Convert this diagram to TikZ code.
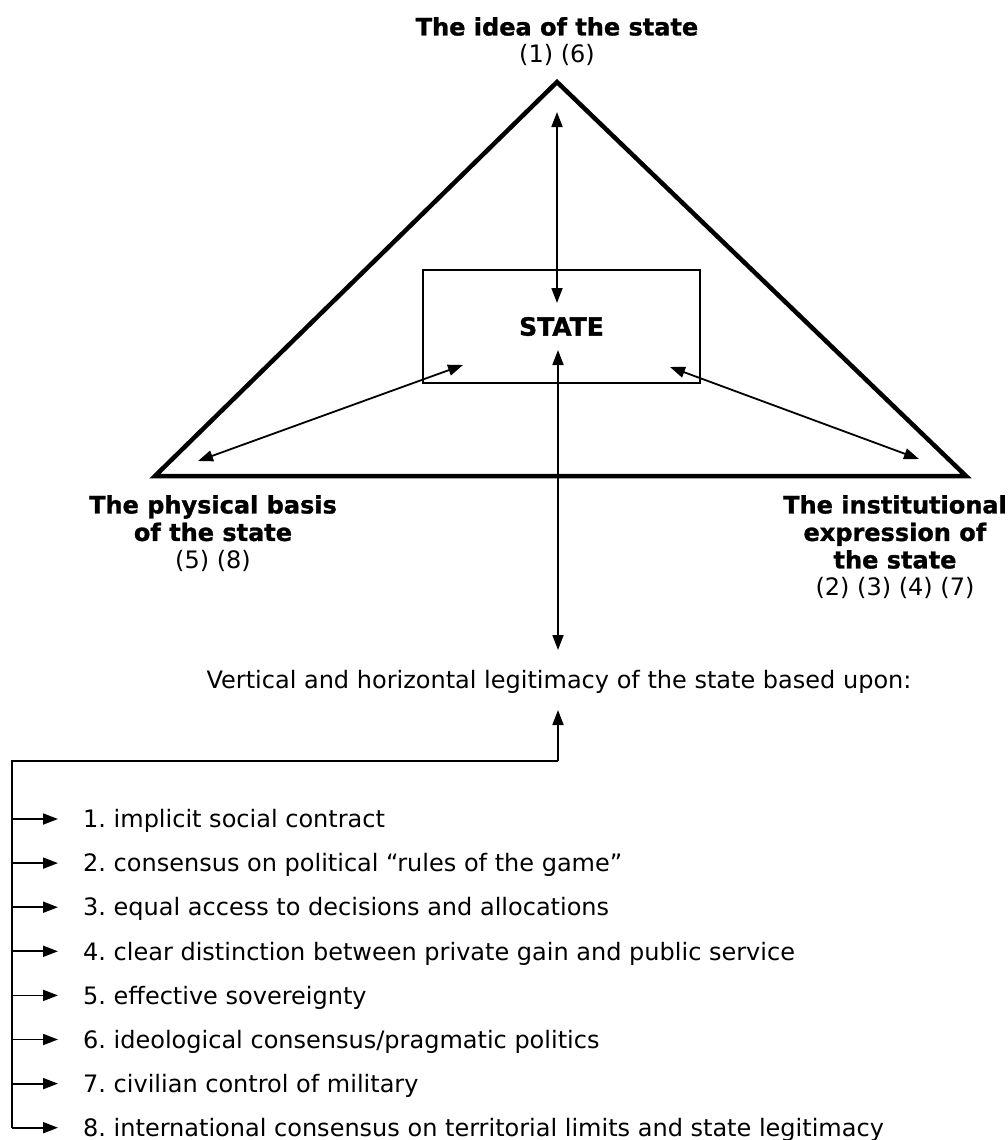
\documentclass[tikz,border=0pt]{standalone}
\usepackage{fontspec}
\setmainfont{DejaVu Sans}[BoldFeatures={FakeBold=1.2}]
\usetikzlibrary{
  arrows.meta,
  positioning,
}

\begin{document}
\begin{tikzpicture}[x=1pt,y=-1pt,>={Triangle[length=15pt,width=11pt]}]%
\tikzstyle{heading}=[align=center,inner sep=0pt,font=\fontsize{24}{27.5}\selectfont]
\tikzstyle{conn}=[line width=1.8pt]
\tikzstyle{item}=[anchor=west,inner sep=0pt,text height=17.5pt,text depth=0pt,font=\fontsize{24}{28}\selectfont]
\useasboundingbox (0,0) rectangle (1008,1140);
\coordinate (apex) at (557,82);
\coordinate (basel) at (155,476);
\coordinate (baser) at (966,476);
\draw[line width=4.5pt,line join=miter] (apex) -- (basel) -- (baser) -- cycle;
\node[draw,line width=1.8pt,minimum width=277pt,minimum height=113pt,inner sep=0pt,font=\fontsize{25}{30}\selectfont\bfseries] (state) at (561.5,326.5) {STATE};
\node[heading,anchor=north] (idea) at (557,17) {\textbf{The idea of the state}\\(1) (6)};
\node[heading,anchor=north] (physical) at (213,495) {\textbf{The physical basis}\\\textbf{of the state}\\(5) (8)};
\node[heading,anchor=north] (institutional) at (895,495) {\textbf{The institutional}\\\textbf{expression of}\\\textbf{the state}\\(2) (3) (4) (7)};
\node[heading,anchor=base] (legit) at (559,688) {Vertical and horizontal legitimacy of the state based upon:};
\coordinate (ideatip) at (557,112);
\coordinate (statetop) at (557,303);
\coordinate (statebot) at (558,350);
\coordinate (legittop) at (558,650);
\coordinate (physend) at (198,461);
\coordinate (stateleft) at (463,365);
\coordinate (stateright) at (670,367);
\coordinate (instend) at (919,459);
\coordinate (legitbot) at (558,710);
\coordinate (junction) at (558,761);
\coordinate (corner) at (12,761);
\draw[conn,<->] (ideatip) -- (statetop);
\draw[conn,<->] (statebot) -- (legittop);
\draw[conn,<->] (physend) -- (stateleft);
\draw[conn,<->] (stateright) -- (instend);
\draw[conn,->] (junction) -- (legitbot);
\foreach \txt [count=\i] in {implicit social contract,
  consensus on political “rules of the game”,
  equal access to decisions and allocations,
  clear distinction between private gain and public service,
  effective sovereignty,
  ideological consensus/pragmatic politics,
  civilian control of military,
  international consensus on territorial limits and state legitimacy}
{
  \node[item] (item\i) at (83,{819+44.1*(\i-1)}) {\i.\ \txt};
  \draw[conn,->,shorten >=25pt] (corner |- item\i.west) -- (item\i.west);
}
\draw[conn] (junction) -- (corner) -- (corner |- item8.west);
\end{tikzpicture}
\end{document}
